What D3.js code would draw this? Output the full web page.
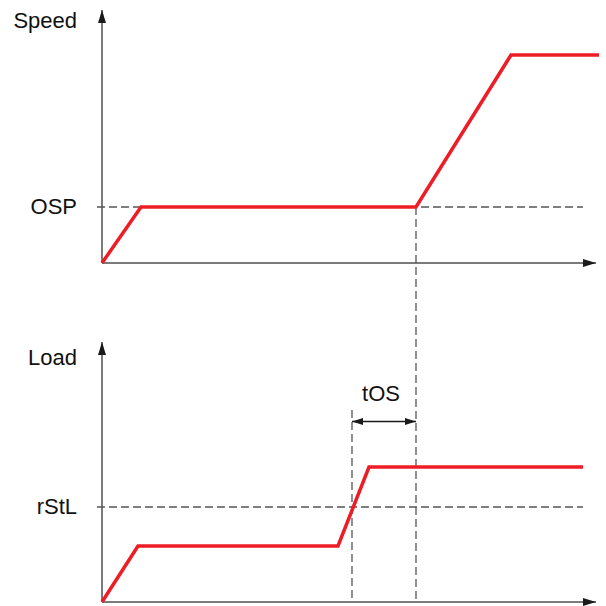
<html>
<head>
<script src="https://cdn.jsdelivr.net/npm/d3@7"></script>
<style>
  body { margin: 0; background: #fff; }
  text { font-family: "Liberation Sans", Arial, sans-serif; font-size: 22px; fill: #111; }
</style>
</head>
<body>
<script>
// time axis shared by both panels (units ~ px)
const speedTimes = [0, 39, 314, 409, 497];
const speedVals  = [0, 56, 56, 208, 208];
const loadTimes  = [0, 36, 236, 267, 481];
const loadVals   = [0, 56, 56, 135, 135];
const OSP = 56, rStL = 95;
const tOSstart = 250, tOSend = 314;
const labelsTop = ["Speed", "OSP"];
const labelsBottom = ["Load", "rStL"];

const W = 606, H = 606;
const svg = d3.select("body").append("svg").attr("width", W).attr("height", H);

const x = d3.scaleLinear().domain([0, 500]).range([102, 602]);
const yTop = d3.scaleLinear().domain([0, 253]).range([263, 10]);
const yBot = d3.scaleLinear().domain([0, 260]).range([602, 342]);

const defs = svg.append("defs");
function marker(id, w, h, orient) {
  defs.append("marker")
    .attr("id", id).attr("viewBox", `0 0 ${w} ${h}`)
    .attr("refX", w).attr("refY", h / 2)
    .attr("markerWidth", w).attr("markerHeight", h)
    .attr("markerUnits", "userSpaceOnUse")
    .attr("orient", orient)
    .append("path").attr("d", `M0,0L${w},${h/2}L0,${h}Z`).attr("fill", "#1a1a1a");
}
marker("ax", 13, 8, "auto");
marker("dim", 11, 7, "auto-start-reverse");

const axisCol = "#7a7a7a", dashCol = "#555", red = "#ee1c25";
const line = (ys) => d3.line().x(d => x(d[0])).y(d => ys(d[1]));

// axes
function axes(ys, top) {
  svg.append("line").attr("x1", x(0)).attr("x2", x(0)).attr("y1", ys(0)).attr("y2", ys(top))
    .attr("stroke", axisCol).attr("stroke-width", 2).attr("marker-end", "url(#ax)");
  svg.append("line").attr("x1", x(0)).attr("x2", x(494)).attr("y1", ys(0)).attr("y2", ys(0))
    .attr("stroke", axisCol).attr("stroke-width", 2).attr("marker-end", "url(#ax)");
}
axes(yTop, 253);
axes(yBot, 260);

// dashed guides
const dash = "8,4";
function hdash(ys, v) {
  svg.append("line").attr("x1", x(-5)).attr("x2", x(481)).attr("y1", ys(v)).attr("y2", ys(v))
    .attr("stroke", dashCol).attr("stroke-width", 1.3).attr("stroke-dasharray", dash);
}
hdash(yTop, OSP);
hdash(yBot, rStL);
svg.append("line").attr("x1", x(tOSend)).attr("x2", x(tOSend)).attr("y1", yTop(OSP)).attr("y2", yBot(0))
  .attr("stroke", dashCol).attr("stroke-width", 1.3).attr("stroke-dasharray", dash);
svg.append("line").attr("x1", x(tOSstart)).attr("x2", x(tOSstart)).attr("y1", yBot(192)).attr("y2", yBot(0))
  .attr("stroke", dashCol).attr("stroke-width", 1.3).attr("stroke-dasharray", dash);

// tOS dimension
svg.append("line").attr("x1", x(tOSstart)).attr("x2", x(tOSend)).attr("y1", yBot(180.5)).attr("y2", yBot(180.5))
  .attr("stroke", "#1a1a1a").attr("stroke-width", 1.3)
  .attr("marker-start", "url(#dim)").attr("marker-end", "url(#dim)");
svg.append("text").attr("x", x((tOSstart + tOSend) / 2) - 3).attr("y", yBot(201))
  .attr("text-anchor", "middle").text("tOS");

// signals
svg.append("path").datum(d3.zip(speedTimes, speedVals)).attr("d", line(yTop))
  .attr("fill", "none").attr("stroke", red).attr("stroke-width", 3.5).attr("stroke-linejoin", "miter");
svg.append("path").datum(d3.zip(loadTimes, loadVals)).attr("d", line(yBot))
  .attr("fill", "none").attr("stroke", red).attr("stroke-width", 3.5).attr("stroke-linejoin", "miter");

// labels
const lx = 77;
svg.append("text").attr("x", lx).attr("y", 28).attr("text-anchor", "end").text(labelsTop[0]);
svg.append("text").attr("x", lx).attr("y", yTop(OSP) + 7).attr("text-anchor", "end").text(labelsTop[1]);
svg.append("text").attr("x", lx).attr("y", 365).attr("text-anchor", "end").text(labelsBottom[0]);
svg.append("text").attr("x", lx).attr("y", yBot(rStL) + 7).attr("text-anchor", "end").text(labelsBottom[1]);
</script>
</body>
</html>
